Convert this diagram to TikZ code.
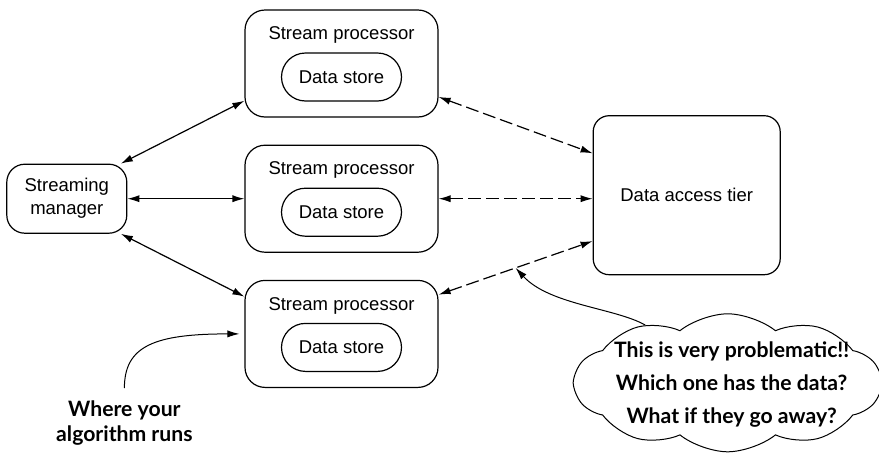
\documentclass[tikz,border=0pt]{standalone}
\usepackage{fontspec}
\setmainfont{Liberation Sans}
\newfontfamily\notefont{Lato}
\usetikzlibrary{shapes.symbols,arrows.meta,positioning,calc}

\begin{document}
\begin{tikzpicture}[
    node distance=13.5pt and 58.5pt,
    proc/.style={rectangle, draw, line width=0.6pt, minimum width=96.5pt, minimum height=53.5pt, rounded corners=10pt},
    store/.style={rectangle, draw, line width=0.6pt, minimum width=60pt, minimum height=24pt, inner sep=0pt, rounded corners=12pt, font=\fontsize{9.25}{11.5}\selectfont},
    mgr/.style={rectangle, draw, line width=0.6pt, minimum width=60pt, minimum height=34.5pt, inner sep=0pt, rounded corners=9pt, align=center, font=\fontsize{9.25}{11.5}\selectfont},
    tier/.style={rectangle, draw, line width=0.6pt, minimum width=93.5pt, minimum height=79.5pt, rounded corners=8pt, font=\fontsize{9.25}{11.5}\selectfont},
    lbl/.style={inner sep=0pt, font=\fontsize{9.25}{11.5}\selectfont},
    bubble/.style={cloud, draw, line width=0.5pt, cloud puffs=10, cloud puff arc=78, cloud ignores aspect, minimum width=153pt, minimum height=69pt, inner sep=0pt},
    note/.style={inner sep=0pt, align=center, font=\notefont\bfseries\fontsize{10.6}{12.5}\selectfont},
    arr/.style={{Latex[length=6pt,width=3.6pt]}-{Latex[length=6pt,width=3.6pt]}, line width=0.6pt},
    dasharr/.style={arr, dash pattern=on 6.5pt off 2.5pt},
    notearr/.style={-{Latex[length=6pt,width=3.6pt]}, line width=0.5pt},
]
\useasboundingbox (0,0) rectangle (439.5pt,226pt);
% Stream processors
\node[proc] (sp1) at (170.75pt,194.25pt) {};
\node[proc, below=of sp1] (sp2) {};
\node[proc, below=of sp2] (sp3) {};
\node[lbl, below=8.5pt of sp1.north] (title1) {Stream processor};
\node[lbl, below=8.5pt of sp2.north] (title2) {Stream processor};
\node[lbl, below=8.5pt of sp3.north] (title3) {Stream processor};
\node[store, below=21.5pt of sp1.north] (ds1) {Data store};
\node[store, below=21.5pt of sp2.north] (ds2) {Data store};
\node[store, below=21.5pt of sp3.north] (ds3) {Data store};
% Manager and data access
\node[mgr, left=of sp2] (mgr) {Streaming\\manager};
\node[tier, right=77pt of sp2, yshift=1.75pt] (dat) {Data access tier};
% Remarks
\node[bubble, below=19pt of dat, xshift=20.5pt] (cloud) {};
\node[note, font=\notefont\bfseries\fontsize{10.6}{16.5}\selectfont] (problem) at ([xshift=2pt,yshift=-1pt]cloud.center) {This is very problematic!!\\Which one has the data?\\What if they go away?};
\node[note, below=6pt of sp3.south west, xshift=-60pt] (where) {Where your\\algorithm runs};
\coordinate (midbot) at ($(sp3.22)!0.5!(dat.206)$);

% Arrows
\draw[arr] (mgr.33) -- (sp1.201);
\draw[arr] (mgr.east) -- (sp2.west);
\draw[arr] (mgr.-33) -- (sp3.159);
\draw[dasharr] (sp1.-19) -- (dat.156);
\draw[dasharr] (sp2.east) -- (sp2.east -| dat.west);
\draw[dasharr] (sp3.22) -- (dat.206);
\draw[notearr] (cloud.145) .. controls +(-15pt,8.5pt) and +(17pt,-18.5pt) .. (midbot);
\draw[notearr, shorten <=6pt, shorten >=2.5pt] (where.north) .. controls +(0,27pt) and +(-45pt,0) .. (sp3.west);
\end{tikzpicture}
\end{document}
